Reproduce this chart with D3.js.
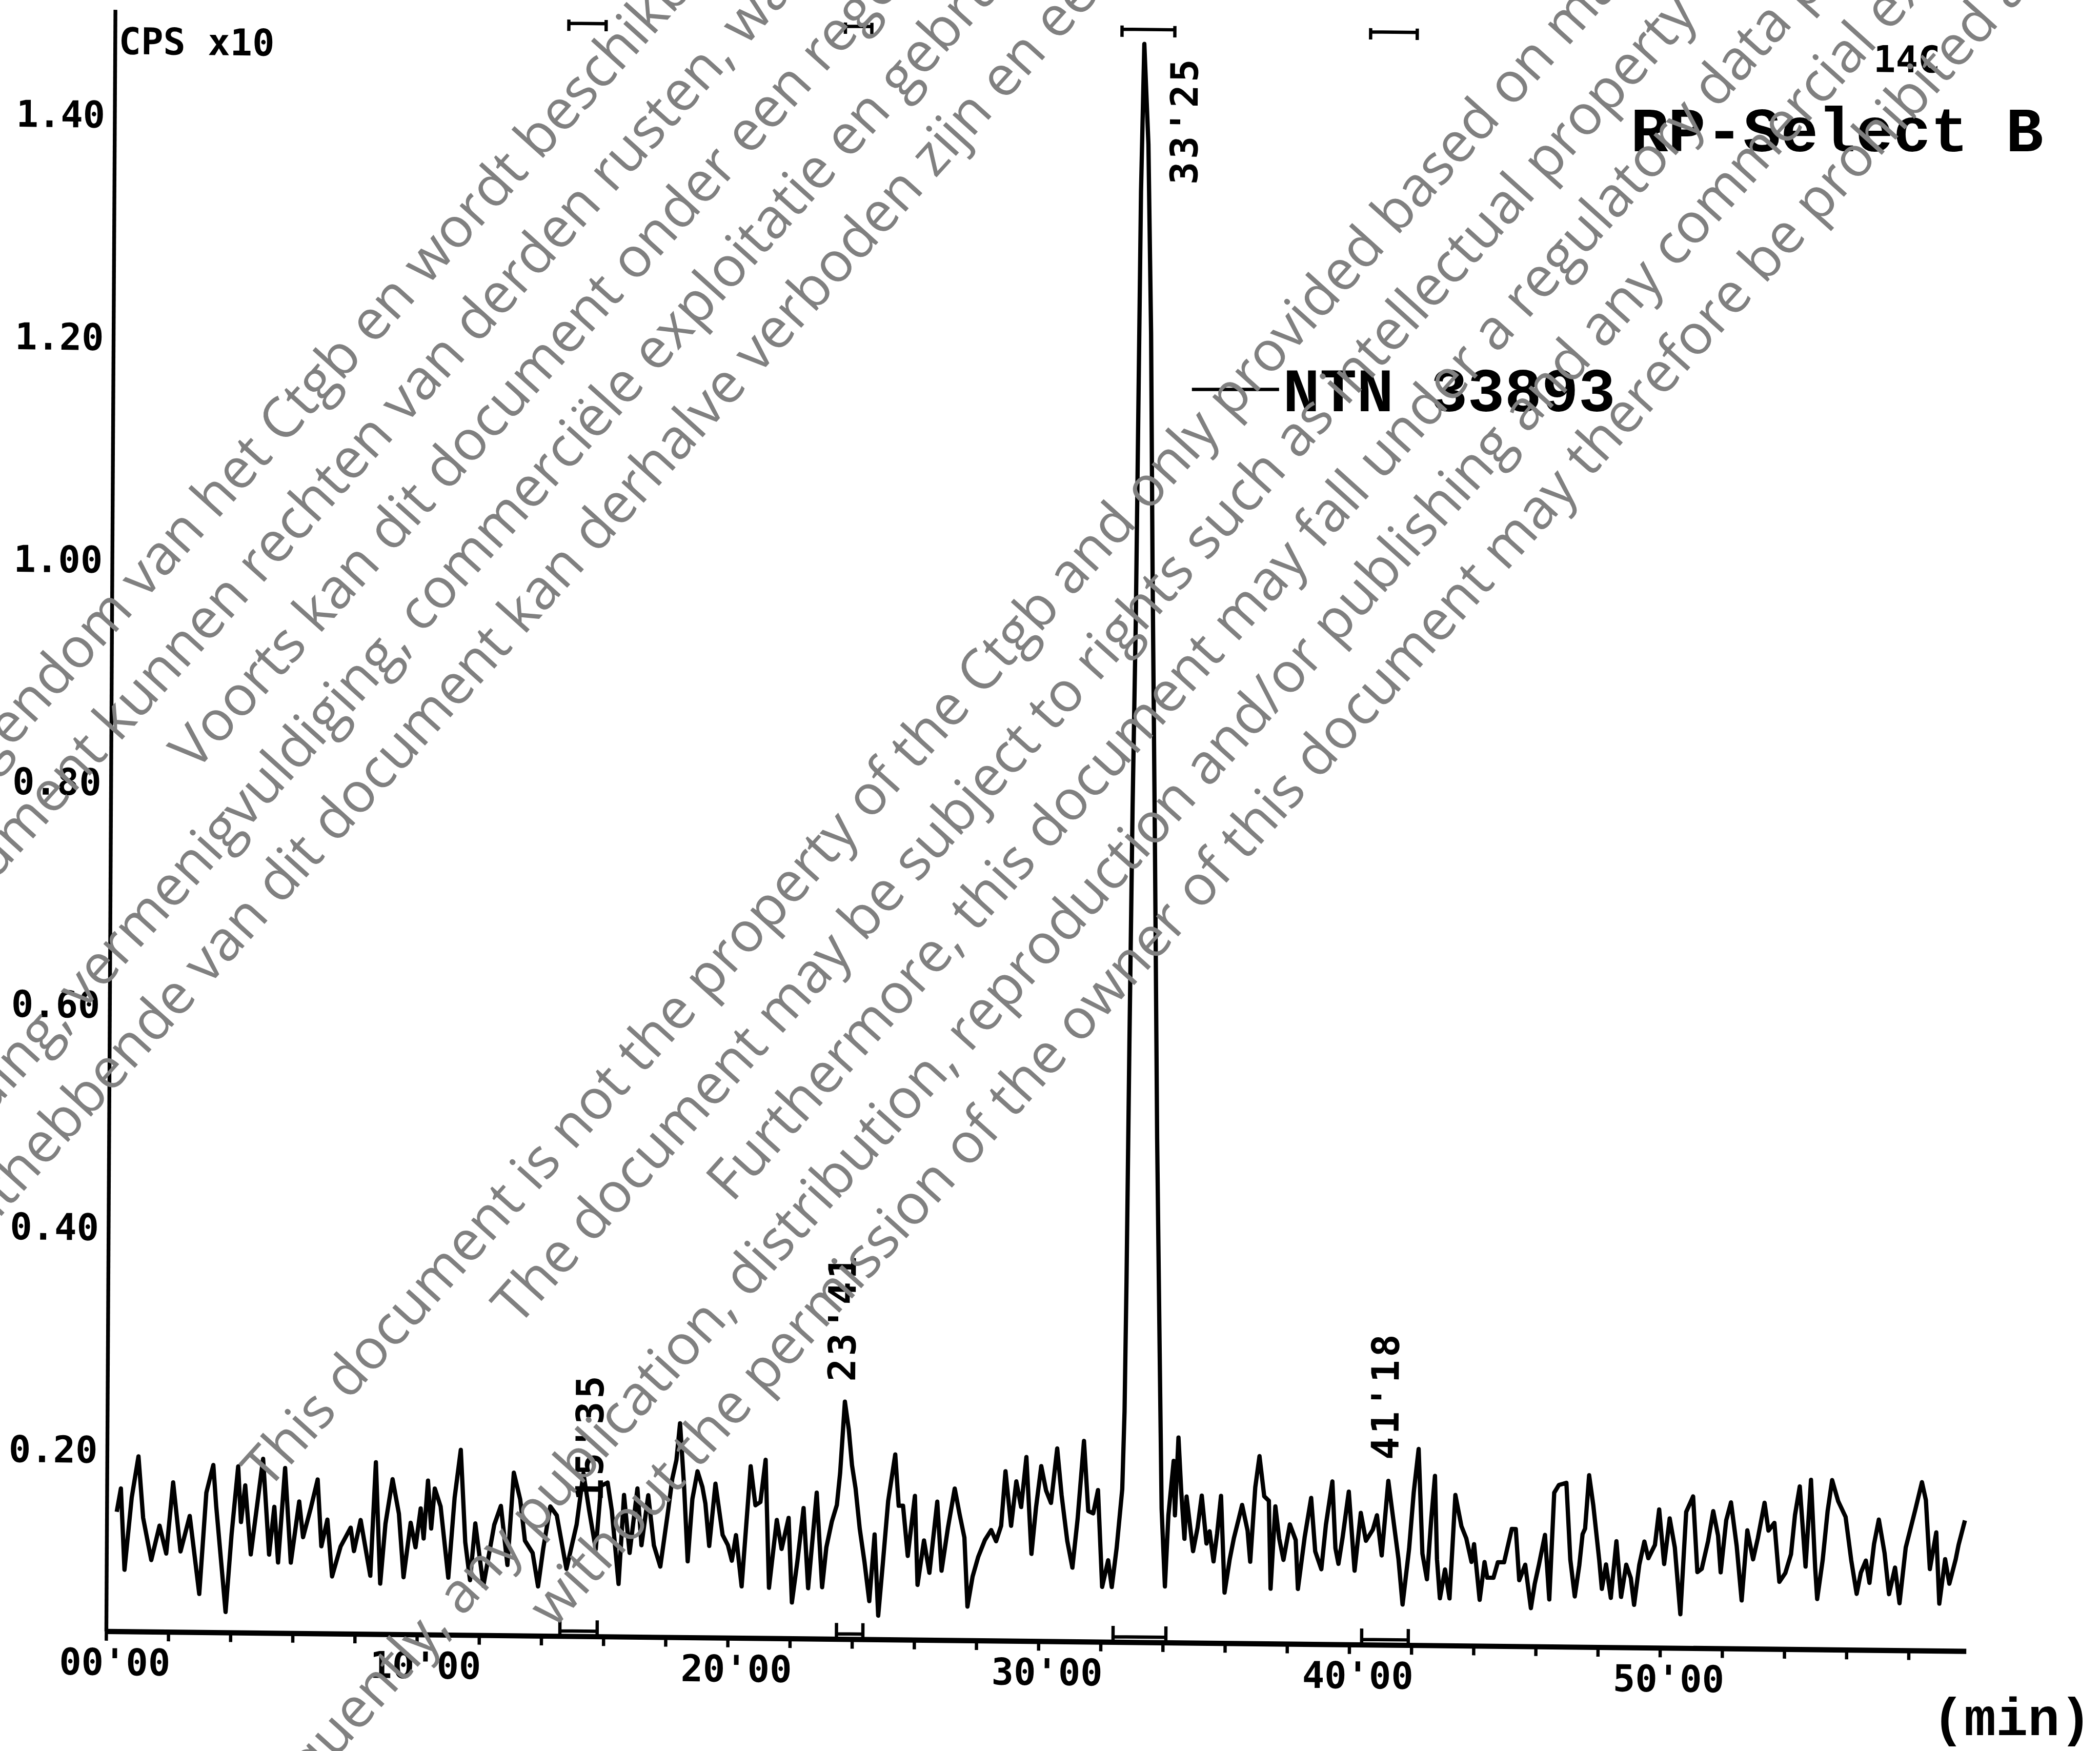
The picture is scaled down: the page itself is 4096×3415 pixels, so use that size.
<!DOCTYPE html>
<html>
<head>
<meta charset="utf-8">
<script src="https://cdn.jsdelivr.net/npm/d3@7"></script>
<style>
  html, body { margin: 0; padding: 0; background: #fff; overflow: hidden; }
</style>
</head>
<body>
<div id="chart"></div>
<script>
// retention time (min) and detector response (CPS x10)
const timeMin = [
  0.32,0.45,0.58,0.80,1.01,1.17,1.44,1.70,1.92,2.13,2.38,2.67,2.99,3.20,3.42,3.52,3.74,3.84,4.02,4.22,
  4.32,4.45,4.64,5.02,5.23,5.39,5.52,5.73,5.93,6.19,6.32,6.57,6.78,6.91,7.10,7.26,7.53,7.85,7.96,8.17,
  8.49,8.65,8.81,8.97,9.19,9.40,9.56,9.78,9.94,10.10,10.20,10.33,10.44,10.55,10.74,11.00,11.19,11.38,11.54,11.70,
  11.86,12.13,12.47,12.68,12.90,13.09,13.30,13.46,13.71,13.89,14.05,14.27,14.48,14.80,15.12,15.33,
  15.52,15.74,15.90,16.11,16.25,16.48,16.64,16.83,17.07,17.21,17.42,17.61,17.82,18.07,18.19,18.32,18.43,18.57,18.70,18.84,
  19.00,19.16,19.26,19.39,19.58,19.82,19.99,20.12,20.25,20.44,20.71,20.87,21.03,21.19,21.32,21.56,21.72,21.94,22.06,22.23,
  22.42,22.58,22.84,23.03,23.16,23.33,23.49,23.59,23.73,23.86,23.97,24.09,24.23,24.39,24.55,24.71,24.84,24.98,25.14,25.36,
  25.48,25.62,25.78,26.00,26.10,26.30,26.48,26.72,26.87,27.07,27.28,27.44,27.60,27.71,27.87,28.05,28.26,28.46,28.62,28.78,
  28.91,29.10,29.26,29.42,29.58,29.76,29.90,30.06,30.22,30.38,30.57,30.72,30.91,31.08,31.24,31.43,31.58,
  31.74,31.89,32.04,32.23,32.35,32.50,32.67,
  32.73,32.77,32.82,32.88,32.95,33.00,33.04,33.12,33.27,33.39,33.48,33.61,33.73,33.85,33.94,34.06,
  34.16,34.32,34.37,34.47,34.57,34.68,34.74,34.96,35.10,35.23,35.39,35.49,35.62,35.73,35.85,35.98,36.14,36.27,36.41,36.53,
  36.71,36.80,36.95,37.08,37.24,37.39,37.46,37.60,37.73,37.87,38.07,38.26,38.34,38.55,38.75,38.89,39.09,39.23,39.43,39.54,
  39.64,39.77,39.96,40.16,40.35,40.52,40.74,40.87,41.03,41.23,41.37,41.57,41.71,41.91,42.05,42.20,42.34,42.49,42.62,42.73,
  42.81,42.91,43.07,43.22,43.39,43.59,43.75,43.92,44.00,44.19,44.34,44.43,44.63,44.77,44.97,45.21,45.34,45.46,45.65,45.84,
  45.96,46.09,46.28,46.43,46.57,46.72,
  46.96,47.10,47.25,47.39,47.49,47.57,47.69,47.83,48.03,48.12,48.25,48.41,48.58,48.74,48.90,49.05,49.16,49.32,49.48,49.61,
  49.82,49.95,50.12,50.29,50.46,50.65,50.82,51.04,51.19,51.33,51.53,51.69,51.85,51.94,52.11,52.26,52.45,52.62,52.79,52.98,
  53.13,53.34,53.47,53.66,53.83,54.02,54.20,54.32,54.47,54.67,54.83,54.98,55.05,55.22,55.37,55.51,55.71,55.95,56.14,56.32,
  56.45,56.61,56.73,56.87,57.02,57.21,57.36,57.55,57.70,57.89,58.19,58.40,58.53,58.67,58.87,58.98,59.16,59.30,59.50,59.59,
  59.79
];
const counts = [
  .144,.165,.092,.157,.194,.139,.101,.132,.107,.171,.109,.141,.071,.162,.187,.150,.085,.055,.125,.186,
  .136,.169,.107,.193,.107,.150,.100,.185,.100,.155,.123,.150,.175,.115,.139,.088,.115,.132,.111,.139,
  .089,.191,.082,.136,.176,.145,.088,.137,.115,.150,.123,.175,.132,.168,.152,.088,.160,.203,.120,.086,
  .137,.081,.136,.153,.100,.183,.159,.122,.111,.081,.115,.153,.145,.097,.137,.183,
  .150,.115,.172,.175,.150,.084,.164,.112,.170,.119,.164,.119,.100,.152,.179,.196,.229,.173,.105,.161,
  .186,.172,.157,.119,.175,.129,.120,.106,.129,.083,.191,.156,.159,.197,.082,.143,.117,.145,.069,.106,
  .154,.082,.168,.083,.119,.142,.157,.186,.250,.225,.193,.172,.136,.106,.071,.131,.058,.105,.161,.203,
  .157,.157,.112,.166,.086,.126,.097,.161,.099,.138,.173,.150,.129,.067,.094,.112,.127,.136,.126,.140,
  .189,.140,.180,.157,.202,.115,.157,.194,.172,.161,.210,.168,.127,.103,.147,.217,.154,
  .152,.173,.086,.110,.086,.121,.174,
  .244,.361,.574,.787,.957,1.170,1.340,1.473,1.383,1.213,1.000,.744,.489,.297,.157,.087,
  .151,.200,.151,.221,.172,.130,.168,.119,.140,.169,.126,.137,.110,.135,.169,.082,.112,.131,.147,.161,
  .138,.110,.177,.205,.169,.165,.086,.160,.131,.112,.144,.130,.086,.133,.168,.120,.104,.144,.183,.123,
  .109,.133,.174,.103,.155,.130,.140,.153,.117,.184,.155,.114,.073,.123,.174,.213,.119,.096,.151,.189,
  .114,.079,.105,.079,.172,.144,.133,.112,.128,.078,.112,.098,.098,.112,.112,.142,.142,.096,.110,.071,
  .093,.110,.137,.079,.175,.182,
  .184,.115,.082,.110,.138,.143,.191,.164,.115,.089,.111,.081,.132,.082,.111,.099,.075,.111,.132,.117,
  .129,.161,.112,.153,.127,.067,.159,.173,.105,.108,.133,.160,.138,.105,.152,.168,.129,.080,.143,.117,
  .136,.168,.143,.150,.097,.105,.122,.157,.183,.111,.189,.110,.082,.117,.161,.189,.170,.156,.117,.087,
  .106,.117,.097,.132,.154,.124,.087,.111,.079,.129,.163,.188,.172,.110,.143,.079,.119,.097,.119,.132,
  .154
];

const yTicks = [0.2, 0.4, 0.6, 0.8, 1.0, 1.2, 1.4];
const xMinorTicks = d3.range(0, 60, 2);
const xLabelTicks = [0, 10, 20, 30, 40, 50];

// integrated peaks: retention label and integration window
const peakNames = ["15'35", "23'41", "33'25", "41'18"];
const peakLabelTime = [15.53, 23.63, 34.42, 41.12];
const peakLabelCount = [0.158, 0.268, 1.347, 0.203];
const integStart = [14.6, 23.5, 32.4, 40.4];
const integEnd = [15.8, 24.35, 34.1, 41.9];

const W = 4096, H = 3415, S = 0.924;
const dot = "'DejaVu Sans Mono', monospace";
const typewriter = "'Liberation Mono', 'Courier New', monospace";

const svg = d3.select("#chart").append("svg")
  .attr("width", W).attr("height", H)
  .style("background-color", "white");

const root = svg.append("g").attr("transform", `scale(${S})`);

const x = d3.scaleLinear().domain([0, 60]).range([224, 224 + 65.6 * 60]);
const y = d3.scaleLinear().domain([0, 1.4]).range([3529, 241]);
const axisBase = 0.0366, axisTop = 1.494, axisEnd = 59.85;

// the scanned plot is a little skewed: baseline drops to the right, y axis leans right
const x0 = x(0), y0 = y(axisBase);
const skewX = 0.0107, skewY = 0.0056;
const plot = root.append("g")
  .attr("transform", `matrix(1,${skewX},${-skewY},1,${skewY * y0},${-skewX * x0})`);

// Eixo Y
const yAx = y.copy().domain([axisBase, axisTop]).range([y(axisBase), y(axisTop)]);
plot.append("g")
  .attr("transform", `translate(${x0},0)`)
  .call(d3.axisLeft(yAx).tickValues(yTicks).tickSize(0).tickPadding(20).tickFormat(d3.format(".2f")))
  .call(g => g.select(".domain").attr("stroke", "#000").attr("stroke-width", 8))
  .call(g => g.selectAll("text")
    .attr("font-family", dot).attr("font-weight", "bold")
    .attr("font-size", 78).attr("fill", "#000").attr("dy", "0.36em"));

// Eixo X
const xAx = x.copy().domain([0, axisEnd]).range([x0, x(axisEnd)]);
plot.append("g")
  .attr("transform", `translate(0,${y0})`)
  .call(d3.axisBottom(xAx).tickValues(xMinorTicks).tickSize(20).tickSizeOuter(0).tickPadding(17)
    .tickFormat(d => xLabelTicks.includes(d) ? (d < 10 ? "0" + d : d) + "'00" : ""))
  .call(g => g.select(".domain").attr("stroke", "#000").attr("stroke-width", 11))
  .call(g => g.selectAll(".tick line").attr("stroke", "#000").attr("stroke-width", 7))
  .call(g => g.selectAll("text")
    .attr("font-family", dot).attr("font-weight", "bold")
    .attr("font-size", 78).attr("fill", "#000").attr("dx", 18));

// trace
const trace = timeMin.map((t, i) => ({ t, v: counts[i] }));
plot.append("path")
  .datum(trace)
  .attr("fill", "none")
  .attr("stroke", "#000")
  .attr("stroke-width", 9)
  .attr("stroke-linejoin", "round")
  .attr("d", d3.line().x(d => x(d.t)).y(d => y(d.v)));

// integration marks at the top and on the baseline
const yb = y(1.486);
plot.selectAll(".topmark")
  .data(integStart)
  .enter()
  .append("path")
  .attr("class", "topmark")
  .attr("fill", "none").attr("stroke", "#000").attr("stroke-width", 7)
  .attr("d", (d, i) => `M${x(d)},${yb + 16}V${yb - 8}M${x(d)},${yb}H${x(integEnd[i])}M${x(integEnd[i])},${yb - 8}V${yb + 16}`);

plot.selectAll(".basemark")
  .data(integStart)
  .enter()
  .append("path")
  .attr("class", "basemark")
  .attr("fill", "none").attr("stroke", "#000").attr("stroke-width", 7)
  .attr("d", (d, i) => `M${x(d)},${y0 + 5}V${y0 - 34}M${x(d)},${y0 - 11}H${x(integEnd[i])}M${x(integEnd[i])},${y0 + 5}V${y0 - 34}`);

// retention time labels
plot.selectAll(".plabel")
  .data(peakNames)
  .enter()
  .append("text")
  .attr("class", "plabel")
  .attr("transform", (d, i) => `translate(${x(peakLabelTime[i])},${y(peakLabelCount[i])}) rotate(-90)`)
  .attr("dominant-baseline", "central")
  .attr("font-family", dot).attr("font-weight", "bold")
  .attr("font-size", 80).attr("letter-spacing", 6)
  .text(d => d);

plot.append("text")
  .attr("x", 232).attr("y", 114)
  .attr("font-family", dot).attr("font-weight", "bold").attr("font-size", 78)
  .text("CPS x10");

plot.append("text")
  .attr("x", 3936).attr("y", 112)
  .attr("font-family", dot).attr("font-weight", "bold").attr("font-size", 78)
  .text("14C");

// typed annotations
root.append("text")
  .attr("x", 3442).attr("y", 319)
  .attr("font-family", typewriter).attr("font-weight", "bold").attr("font-size", 132)
  .text("RP-Select B");

root.append("line")
  .attr("x1", 2516).attr("x2", 2700).attr("y1", 822).attr("y2", 822)
  .attr("stroke", "#000").attr("stroke-width", 7);

root.append("text")
  .attr("x", 2708).attr("y", 868)
  .attr("font-family", typewriter).attr("font-weight", "bold").attr("font-size", 130)
  .text("NTN 33893");

root.append("text")
  .attr("x", 4079).attr("y", 3662)
  .attr("font-family", typewriter).attr("font-weight", "bold").attr("font-size", 112)
  .text("(min)");

// watermark
const wmAngle = -48, wmFont = 118, wmFirst = 1075, wmGap = 161.2;
const wmLines = [
  { k: 0, pre: "Dit document is eigendom van het Ctgb en", post: "wordt beschikbaar gesteld op basis van een verzoek", s: 123 },
  { k: 1, pre: "Op dit document kunnen rechten van derden", post: "rusten, waaronder intellectuele eigendomsrechten", s: 530 },
  { k: 2, pre: "", post: "Voorts kan dit document onder een regeling van gegevensbescherming vallen.", s: -936 },
  { k: 3, pre: "Openbaarmaking, verspreiding, vermenigvuldiging, commerciële exploitatie en", post: "gebruik van dit document zonder toestemming", s: 1085 },
  { k: 4, pre: "zonder toestemming van de rechthebbende", post: "van dit document kan derhalve verboden zijn en een inbreuk vormen", s: -1284 },
  { k: 9, pre: "This", post: "document is not the property of the Ctgb and only provided based on manifest request", s: -1737 },
  { k: 10, pre: "", post: "The document may be subject to rights such as intellectual property and copyright", s: -1351 },
  { k: 11, pre: "", post: "Furthermore, this document may fall under a regulatory data protection regime.", s: -854 },
  { k: 12, pre: "Consequently, any publication,", post: "distribution, reproduction and/or publishing and any commercial exploitation and use", s: -1013 },
  { k: 13, pre: "without the", post: "permission of the owner of this document may therefore be prohibited and illegal.", s: -1141 }
];
const ca = Math.cos(wmAngle * Math.PI / 180), sa = Math.sin(wmAngle * Math.PI / 180);
const wm = root.append("g")
  .attr("font-family", "'Open Sans', 'Noto Sans', sans-serif")
  .attr("font-size", wmFont)
  .attr("fill", "#808080");

wmLines.forEach(l => {
  const n = wmFirst + wmGap * l.k;
  const ax = l.s * ca - n * sa;
  const ay = l.s * sa + n * ca;
  const tr = `translate(${ax},${ay}) rotate(${wmAngle})`;
  if (l.pre) {
    wm.append("text").attr("transform", tr).attr("text-anchor", "end").text(l.pre);
  }
  wm.append("text").attr("transform", tr).attr("dx", l.pre ? "0.26em" : 0).text(l.post);
});
</script>
</body>
</html>
